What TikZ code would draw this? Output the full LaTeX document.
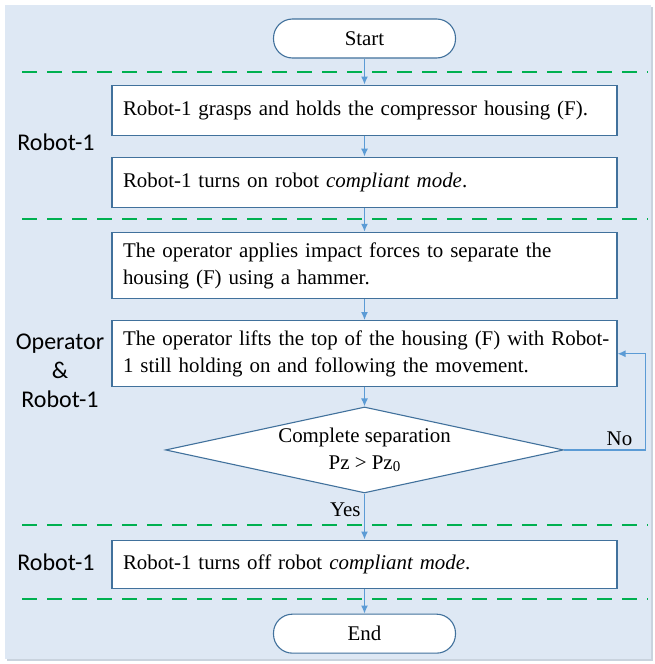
\documentclass[tikz,border=0pt]{standalone}
\usepackage{fontspec}
\setmainfont{Liberation Serif}
\newfontfamily\lanefont{Carlito}
\usetikzlibrary{
arrows.meta,
calc,
positioning,
shapes.geometric
}
\definecolor{panelblue}{HTML}{DEE8F4}
\definecolor{panelshade}{HTML}{C9D3DE}
\definecolor{boxline}{HTML}{41719C}
\definecolor{flowblue}{HTML}{5B9BD5}
\definecolor{lanegreen}{HTML}{00B050}
\tikzset{>={Latex[length=8pt,width=7pt]}}
\tikzset{
	terminal/.style={draw=boxline, fill=white, line width=1.1pt, rounded corners=19pt, minimum width=182pt, minimum height=39pt, inner sep=0pt},
	process/.style={draw=boxline, fill=white, line width=1.1pt, text width=483pt, align=left, inner xsep=11pt, inner ysep=10pt, minimum height=50pt},
	decision/.style={draw=boxline, fill=white, line width=1.1pt, diamond, aspect=4.63, minimum width=398pt, minimum height=86pt, inner sep=0pt, align=center},
	flow/.style={->, draw=flowblue, line width=1.4pt},
	lanesep/.style={draw=lanegreen, line width=2.5pt, dash pattern=on 15pt off 10pt},
	lanelabel/.style={font=\lanefont\fontsize{24pt}{29pt}\selectfont, align=center}
}

\begin{document}
\begin{tikzpicture}[x=1pt, y=-1pt, font=\fontsize{20.9pt}{27pt}\selectfont]
		\useasboundingbox (0,0) rectangle (655,664);
		\fill[panelshade] (7,7) rectangle (653,661);
		\fill[panelblue] (5,5) rectangle (651,659);
		
		% lane separators
		\foreach \y in {72,219,525,599}
			\draw[lanesep] (22,\y) -- (648,\y);
		
		\node[terminal]                    (start)   at (364.5,38.5) {Start};
		\node[process,below=26pt of start]  (grasp)   {Robot-1 grasps and holds the compressor housing (F).};
		\node[process,below=21pt of grasp]  (compon)  {Robot-1 turns on robot \textit{compliant mode}.};
		\node[process,below=24pt of compon] (impact)  {The operator applies impact forces to separate the\\housing (F) using a hammer.};
		\node[process,below=21pt of impact] (lift)    {\mbox{The operator lifts the top of the housing (F) with Robot-}\\1 still holding on and following the movement.};
		\node[decision,below=19pt of lift]  (check)   {Complete separation\\Pz > Pz\raisebox{-1.5pt}{\fontsize{15pt}{15pt}\selectfont 0}};
		\node[process,below=46pt of check,minimum height=48pt] (compoff) {Robot-1 turns off robot \textit{compliant mode}.};
		\node[terminal,below=25pt of compoff] (end)   {End};
		
		\node[lanelabel] (lanerobota)   at (56,142) {Robot-1};
		\node[lanelabel] (laneoperator) at (60,371) {Operator\\\&\\Robot-1};
		\node[lanelabel] (lanerobotb)   at (56,562) {Robot-1};
		
		\coordinate (loopturn) at ($(lift.east)+(28,0)$);
		
		\draw[flow] (start) -- (grasp);
		\draw[flow] (grasp) -- (compon);
		\draw[flow] (compon) -- (impact);
		\draw[flow] (impact) -- (lift);
		\draw[flow] (lift) -- (check);
		\draw[flow] (check.east) -| node[above,pos=0.34] {No} (loopturn) -- (lift.east);
		\draw[flow] (check.south) -- node[left,pos=0.35] {Yes} (compoff.north);
		\draw[flow] (compoff) -- (end);
	\end{tikzpicture}
\end{document}
